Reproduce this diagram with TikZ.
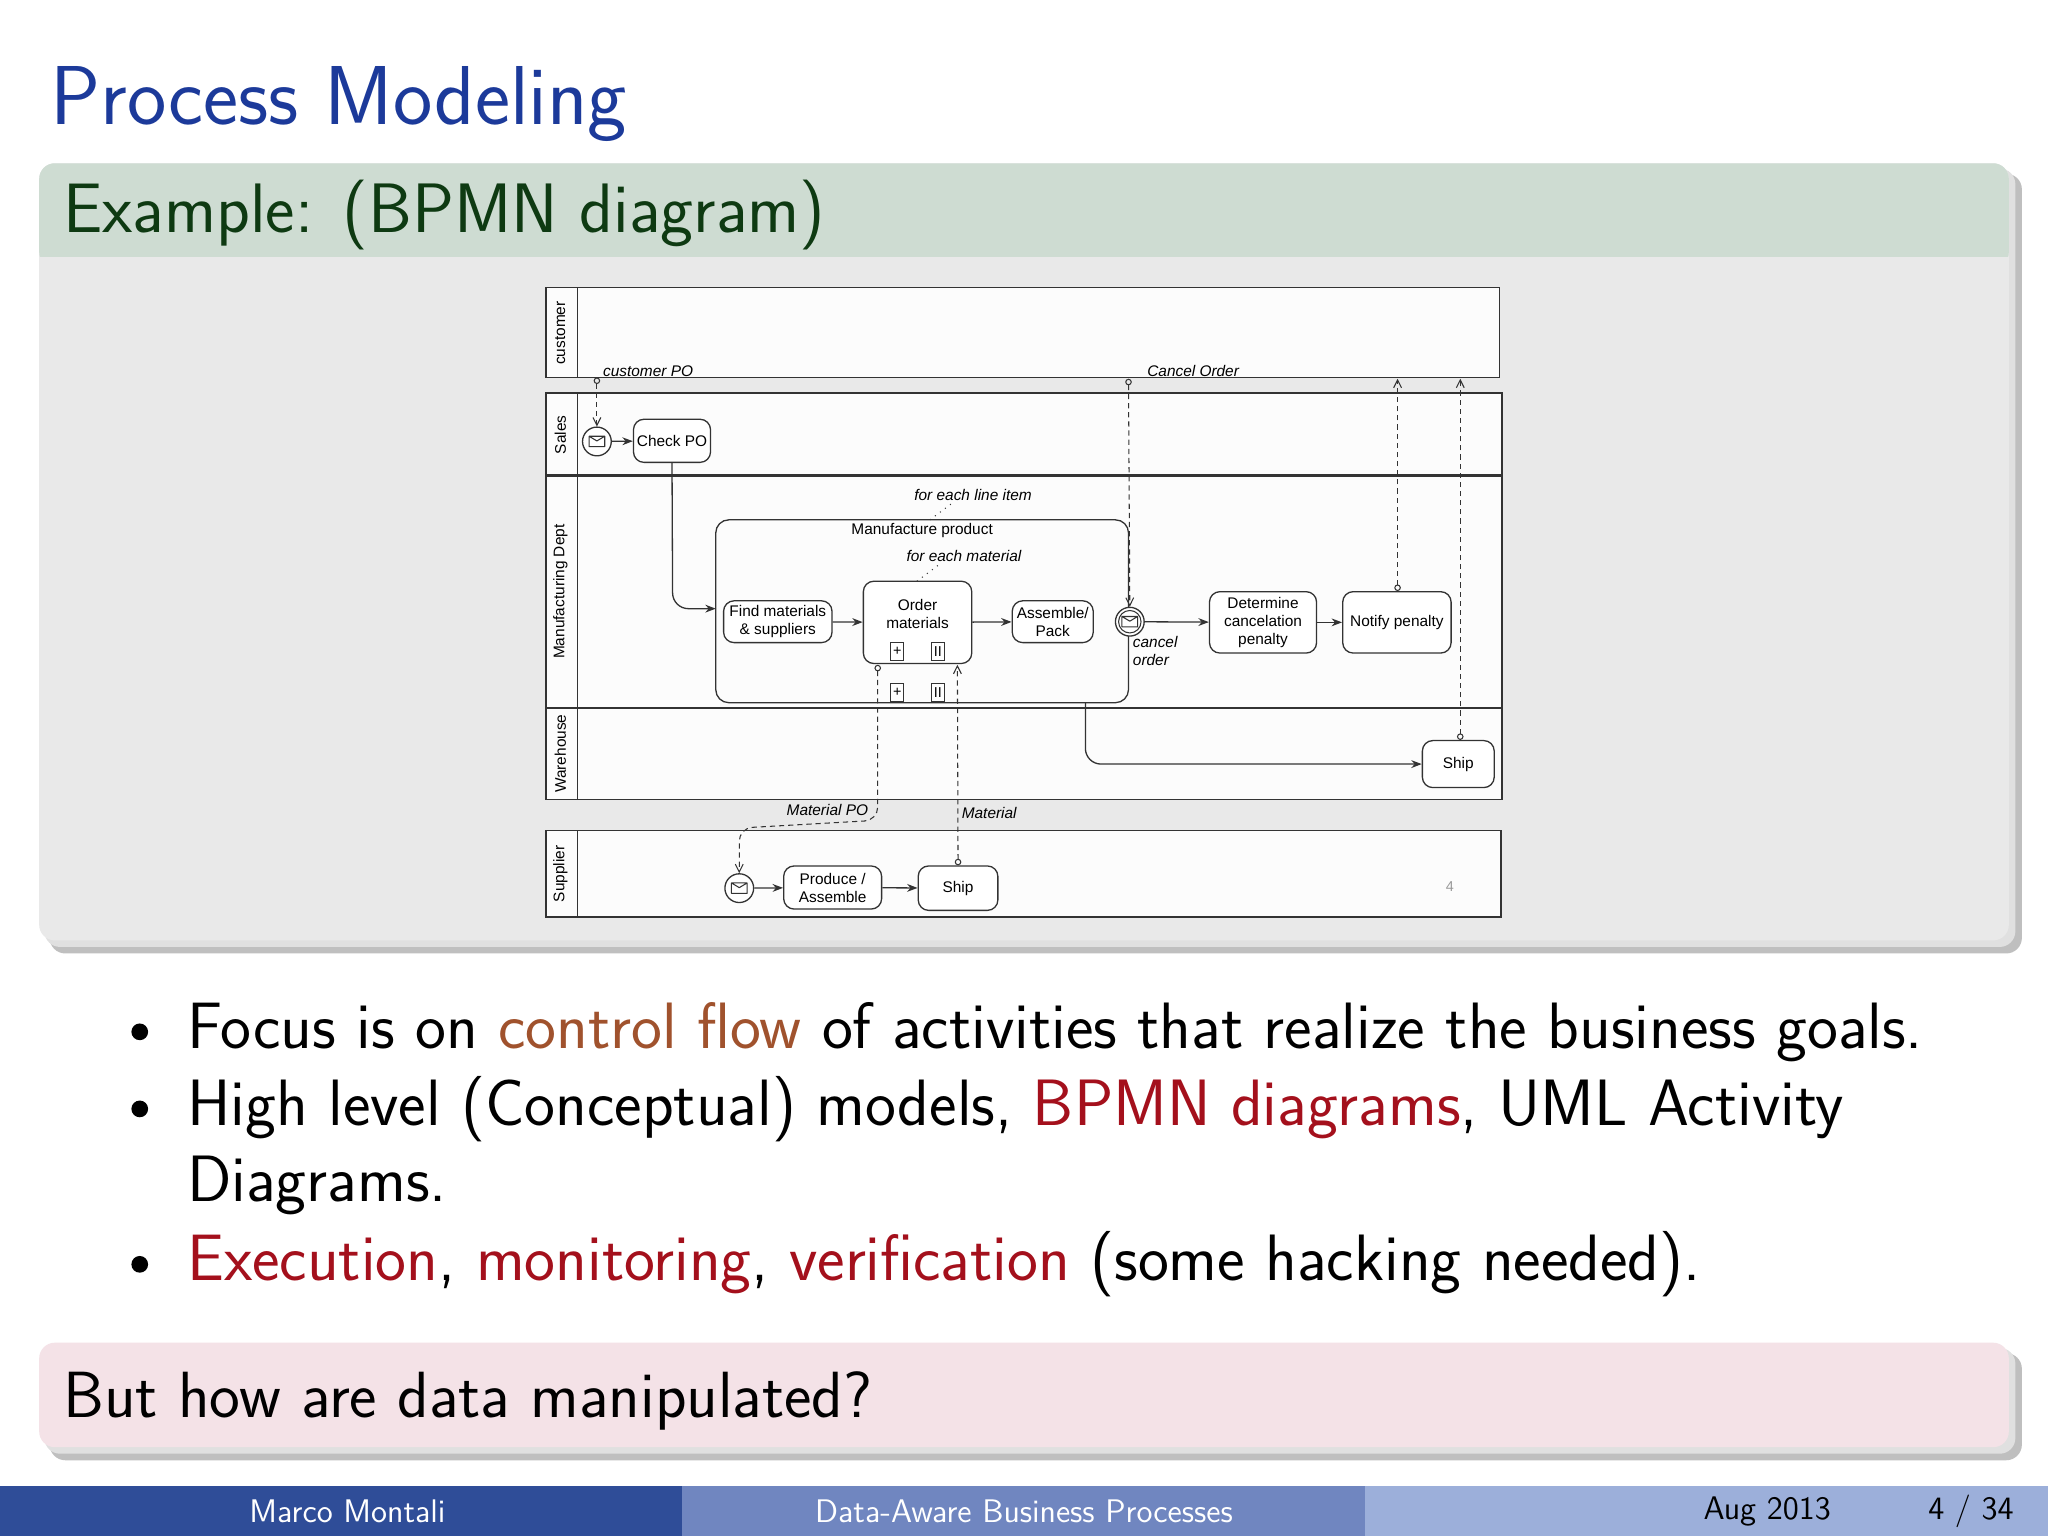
\documentclass[tikz,border=0pt]{standalone}
\usepackage{fontspec}
\newfontfamily\hv{Liberation Sans}
\usetikzlibrary{arrows.meta,calc}
\definecolor{titleblue}{HTML}{1C3A9A}
\definecolor{hdrgreen}{HTML}{CEDCD2}
\definecolor{bodygrey}{HTML}{E9E9E9}
\definecolor{dkgreen}{HTML}{0E3A12}
\definecolor{pinkbg}{HTML}{F4E2E7}
\definecolor{brownhl}{HTML}{A0522D}
\definecolor{redhl}{HTML}{A4101C}
\definecolor{footA}{HTML}{2F4D98}
\definecolor{footB}{HTML}{7086C0}
\definecolor{footC}{HTML}{9CAFDA}
\definecolor{lanebg}{HTML}{FCFCFC}
\definecolor{ln}{HTML}{333333}
\tikzset{
 task/.style={draw=ln,line width=0.5pt,rounded corners=4pt,fill=white,font=\hv\fontsize{5.9}{6.9}\selectfont,align=center,inner sep=0.5pt},
 evt/.style={draw=ln,line width=0.5pt,circle,minimum size=11pt,inner sep=0pt,fill=white},
 seq/.style={draw=ln,line width=0.5pt,-{Stealth[length=4pt,width=3pt]}},
 msg/.style={draw=ln,line width=0.4pt,dashed,dash pattern=on 2pt off 1.5pt,{Circle[open,length=2.5pt]}-{Straight Barb[length=3pt,width=3pt]}},
 lbl/.style={font=\hv\itshape\fontsize{5.9}{6.9}\selectfont,inner sep=0.5pt},
 lane/.style={font=\hv\fontsize{5.9}{7}\selectfont,rotate=90},
 mk/.style={draw=ln,line width=0.4pt,minimum width=5pt,minimum height=7pt,inner sep=0pt,fill=white,font=\hv\fontsize{5.5}{6}\selectfont},
 bul/.style={anchor=base west,font=\sffamily\fontsize{25.1}{29}\selectfont,inner sep=0pt}
}
\newcommand{\envl}[1]{\draw[ln,line width=0.4pt,line join=round] ($(#1)+(-3pt,-2pt)$) rectangle ($(#1)+(3pt,2pt)$) ($(#1)+(-3pt,2pt)$) -- ($(#1)+(0,0.2pt)$) -- ($(#1)+(3pt,2pt)$);}
\begin{document}
\begin{tikzpicture}[x=0.5pt,y=-0.5pt]
\useasboundingbox (0,0) rectangle (1568,1176);
\fill[white] (0,0) rectangle (1568,1176);
% title
\node[anchor=base west,inner sep=0pt,text=titleblue,font=\sffamily\fontsize{32}{36}\selectfont] (title) at (38,95) {Process Modeling};
% block 1 shadow and body
\fill[black!25,rounded corners=6pt] (38,133) rectangle (1548,730);
\fill[black!12,rounded corners=6pt] (34,129) rectangle (1543,725);
\fill[bodygrey,rounded corners=6pt] (30,125) rectangle (1538,720);
\fill[hdrgreen,rounded corners=6pt] (30,125) rectangle (1538,205);
\fill[bodygrey] (30,197) rectangle (1538,210);
\node[anchor=base west,inner sep=0pt,text=dkgreen,font=\sffamily\fontsize{26.8}{30}\selectfont] (ex) at (48,178) {Example: (BPMN diagram)};
% pools
\begin{scope}[line width=0.6pt]
\filldraw[draw=ln,fill=lanebg] (418,220) rectangle (1148,289);
\draw[ln] (442,220) -- (442,289);
\filldraw[draw=ln,fill=lanebg] (418,301) rectangle (1150,612);
\draw[ln] (442,301) -- (442,612);
\draw[ln,line width=1pt] (418,364) -- (1150,364) (418,542) -- (1150,542);
\filldraw[draw=ln,fill=lanebg] (418,636) rectangle (1149,702);
\draw[ln] (442,636) -- (442,702);
\end{scope}
\node[lane] (lc) at (429,255) {customer};
\node[lane] (ls) at (429,333) {Sales};
\node[lane] (lm) at (429,453) {Manufacturing Dept};
\node[lane] (lw) at (429,577) {Warehouse};
\node[lane] (lsu) at (429,669) {Supplier};
% subprocess
\draw[ln,line width=0.5pt,rounded corners=5pt] (548,398) rectangle (864,538);
\node[font=\hv\fontsize{5.9}{7}\selectfont] (mp) at (706,406) {Manufacture product};
\node[lbl] (fli) at (745,379) {for each line item};
\draw[ln,dotted,line width=0.4pt] (728,386) -- (712,398);
\node[mk] (sp1) at (687,530) {+};
\node[mk] (sp2) at (718,530) {II};
% tasks
\node[evt] (s1) at (457,338) {}; \envl{s1}
\node[task,minimum width=29.5pt,minimum height=16.5pt] (checkpo) at (514.5,337.5) {Check PO};
\node[task,minimum width=41.5pt,minimum height=16pt] (find) at (595.5,476) {Find materials\\\& suppliers};
\node[task,minimum width=41.5pt,minimum height=31.5pt] (order) at (702.5,476.5) {};
\node[font=\hv\fontsize{5.9}{7}\selectfont,align=center] (ordert) at (702.5,470) {Order\\materials};
\node[mk] (om1) at (687,499) {+};
\node[mk] (om2) at (718,499) {II};
\node[lbl] (fem) at (738,426) {for each material};
\draw[ln,dotted,line width=0.4pt] (718,433) -- (702,445);
\node[task,minimum width=31pt,minimum height=16pt] (asm) at (806,476) {Assemble/\\Pack};
\node[evt] (ce) at (865,476) {};
\draw[ln,line width=0.4pt] (ce) circle (4.3pt); \envl{ce}
\node[lbl,align=left,anchor=north west] (cel) at (866,486) {cancel\\order};
\node[task,minimum width=41pt,minimum height=23.5pt] (det) at (967,476.5) {Determine\\cancelation\\penalty};
\node[task,minimum width=41.5pt,minimum height=23.5pt] (notify) at (1069.5,476.5) {Notify penalty};
\node[task,minimum width=27.5pt,minimum height=18pt] (shipw) at (1116.5,585) {Ship};
\node[evt] (s2) at (566,680) {}; \envl{s2}
\node[task,minimum width=37.5pt,minimum height=16.5pt] (prod) at (637.5,679.5) {Produce /\\Assemble};
\node[task,minimum width=30.5pt,minimum height=17pt] (ships) at (733.5,680) {Ship};
\node[text=black!40,font=\hv\fontsize{5.5}{6}\selectfont] (pg) at (1110,679) {4};
% coordinates
\coordinate (cpo) at (457,289);
\coordinate (cco) at (864,290);
\coordinate (cn) at (1070,290);
\coordinate (cs) at (1118,290);
\coordinate (spl) at (548,466);
\coordinate (spb) at (831,538);
\coordinate (mpo) at (672,509);
\coordinate (mat) at (733,509);
% sequence flows
\draw[seq] (s1) -- (checkpo);
\draw[seq,rounded corners=6pt] (checkpo.south) -- (515,466) -- (spl);
\draw[seq] (find) -- (order);
\draw[seq] (order) -- (asm);
\draw[seq] (ce) -- (det);
\draw[seq] (det) -- (notify);
\draw[seq,rounded corners=6pt] (spb) -- (831,585) -- (shipw.west);
\draw[seq] (s2) -- (prod);
\draw[seq] (prod) -- (ships);
% message flows
\draw[msg] (cpo) -- (s1.north);
\draw[msg] (cco) -- (ce.north);
\draw[msg] (notify.north -| cn) -- (cn);
\draw[msg] (shipw.north -| cs) -- (cs);
\draw[msg,rounded corners=5pt] (mpo) -- (672,628) -- (566,634) -- (s2.north);
\draw[msg] (ships.north) -- (mat);
\node[lbl,anchor=base east] (cpol) at (532,288) {customer PO};
\node[lbl,anchor=base west] (col) at (877,288) {Cancel Order};
\node[lbl,anchor=base east] (mpol) at (666,624) {Material PO};
\node[lbl,anchor=base west] (matl) at (735,627) {Material};
% bullets
\foreach \yy in {790,849,968} \fill (107,\yy) circle (3.2pt);
\node[bul] (b1) at (143,803) {Focus is on \textcolor{brownhl}{control flow} of activities that realize the business goals.};
\node[bul] (b2) at (143,862) {High level (Conceptual) models, \textcolor{redhl}{BPMN diagrams}, UML Activity};
\node[bul] (b2b) at (143,920) {Diagrams.};
\node[bul] (b3) at (143,980) {\textcolor{redhl}{Execution}, \textcolor{redhl}{monitoring}, \textcolor{redhl}{verification} (some hacking needed).};
% bottom block
\fill[black!25,rounded corners=6pt] (38,1036) rectangle (1548,1118);
\fill[black!12,rounded corners=6pt] (34,1032) rectangle (1543,1113);
\fill[pinkbg,rounded corners=6pt] (30,1028) rectangle (1538,1108);
\node[anchor=base west,inner sep=0pt,font=\sffamily\fontsize{25}{29}\selectfont] (q) at (48,1085) {But how are data manipulated?};
% footer
\fill[footA] (0,1138) rectangle (522,1176);
\fill[footB] (522,1138) rectangle (1045,1176);
\fill[footC] (1045,1138) rectangle (1568,1176);
\node[text=white,font=\sffamily\fontsize{12.5}{14}\selectfont] (fa) at (266,1157) {Marco Montali};
\node[text=white,font=\sffamily\fontsize{12.5}{14}\selectfont] (fb) at (784,1157) {Data-Aware Business Processes};
\node[font=\sffamily\fontsize{12.5}{14}\selectfont] (fc) at (1353,1157) {Aug 2013};
\node[font=\sffamily\fontsize{12.5}{14}\selectfont] (fd) at (1509,1157) {4 / 34};
\end{tikzpicture}
\end{document}
